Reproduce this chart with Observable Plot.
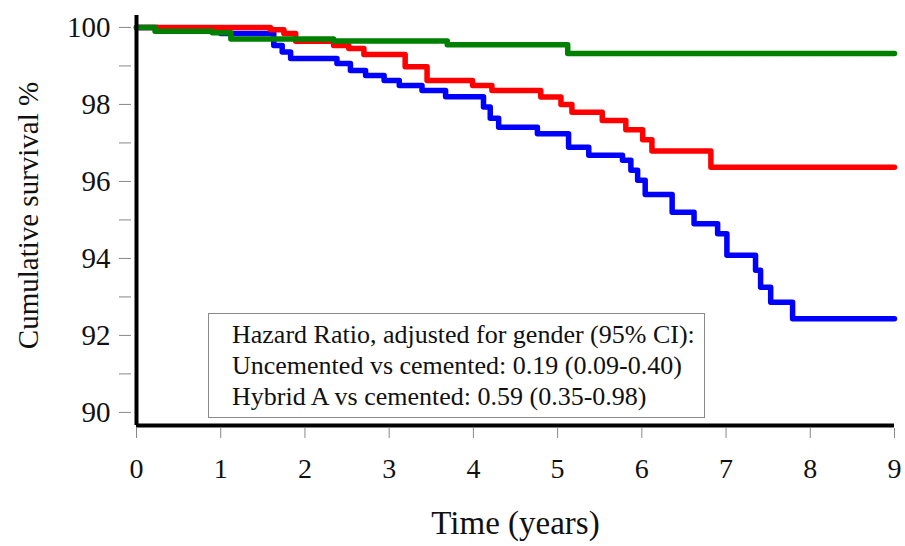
<!DOCTYPE html>
<html><head><meta charset="utf-8">
<script src="https://cdn.jsdelivr.net/npm/d3@7"></script>
<script src="https://cdn.jsdelivr.net/npm/@observablehq/plot@0.6"></script>
<style>
body{margin:0;background:#fff;}
#wrap{position:relative;width:905px;height:546px;font-family:"Liberation Serif","Times New Roman",serif;}
#wrap svg{position:absolute;left:0;top:0;}
#hr{position:absolute;left:208px;top:313px;width:497px;height:105px;box-sizing:border-box;border:1px solid #8a8a8a;background:#fff;padding:5px 0 0 23px;font-size:26px;line-height:31px;color:#111;white-space:nowrap;}
</style>
</head><body>
<div id="wrap"><div id="hr"></div></div>
<script>
// Series (Kaplan-Meier step curves): time in years, cumulative survival %
const seriesNames = ["Cemented", "Hybrid A", "Uncemented"];
const seriesColors = ["#0000ff", "#ff0000", "#008000"];

const cementedTime = [0, 0.25, 1.0, 1.63, 1.73, 1.83, 2.38, 2.54, 2.72, 2.94, 3.12, 3.39, 3.67, 4.12, 4.20, 4.30, 4.76, 5.13, 5.37, 5.77, 5.87, 5.95, 6.04, 6.36, 6.62, 6.90, 7.01, 7.35, 7.41, 7.53, 7.79, 9];
const cementedSurv = [100, 99.9, 99.84, 99.53, 99.36, 99.19, 99.06, 98.88, 98.75, 98.62, 98.49, 98.36, 98.2, 97.93, 97.64, 97.41, 97.24, 96.89, 96.68, 96.55, 96.29, 96.03, 95.66, 95.2, 94.9, 94.64, 94.08, 93.69, 93.25, 92.86, 92.43, 92.43];

const hybridTime = [0, 1.59, 1.75, 1.89, 2.34, 2.52, 2.70, 3.19, 3.45, 3.99, 4.22, 4.80, 5.04, 5.17, 5.53, 5.81, 6.01, 6.12, 6.82, 9];
const hybridSurv = [100, 99.94, 99.84, 99.64, 99.53, 99.45, 99.30, 98.98, 98.62, 98.49, 98.36, 98.19, 98.0, 97.8, 97.58, 97.34, 97.08, 96.79, 96.37, 96.37];

const uncementedTime = [0, 0.22, 0.9, 1.12, 2.34, 3.69, 5.12, 9];
const uncementedSurv = [100, 99.9, 99.86, 99.7, 99.65, 99.55, 99.32, 99.32];

const xTicks = [0, 1, 2, 3, 4, 5, 6, 7, 8, 9];
const yTicks = [90, 92, 94, 96, 98, 100];
const yMinorTicks = [91, 93, 95, 97, 99];

const hrLines = [
  "Hazard Ratio, adjusted for gender (95% CI):",
  "Uncemented vs cemented: 0.19 (0.09-0.40)",
  "Hybrid A vs cemented: 0.59 (0.35-0.98)"
];

// drawn in this order: blue under red under green
const allTimes = [cementedTime, hybridTime, uncementedTime];
const allSurv = [cementedSurv, hybridSurv, uncementedSurv];
const rows = [];
seriesNames.forEach((name, i) => {
  allTimes[i].forEach((t, j) => rows.push({series: name, time: t, surv: allSurv[i][j]}));
});

const yLo = 89.66, yHi = 100.31;
const font = '"Liberation Serif","Times New Roman",serif';

const chart = Plot.plot({
  width: 905,
  height: 546,
  marginLeft: 136,
  marginRight: 11,
  marginTop: 15,
  marginBottom: 121,
  style: {fontFamily: font, background: "transparent", color: "#111"},
  x: {domain: [0, 9]},
  y: {domain: [yLo, yHi]},
  color: {domain: seriesNames, range: seriesColors},
  marks: [
    Plot.axisY({ticks: yMinorTicks, tickSize: 12, dx: -5, stroke: "#888", tickFormat: () => "", label: null}),
    Plot.axisY({ticks: yTicks, tickSize: 12, dx: -5, stroke: "#888", tickPadding: 9, fontSize: 29, tickFormat: d => String(d), label: null}),
    Plot.axisX({ticks: xTicks, tickSize: 10, dy: 3, stroke: "#888", tickPadding: 20, fontSize: 28, tickFormat: d => String(d), label: null}),
    Plot.text(["Cumulative survival %"], {frameAnchor: "left", textAnchor: "middle", rotate: -90, dx: -108, dy: -5, fontSize: 29, fill: "#111"}),
    Plot.text(["Time (years)"], {frameAnchor: "bottom", dy: 108, fontSize: 33, fill: "#111"}),
    Plot.line(rows, {x: "time", y: "surv", z: "series", stroke: "series", curve: "step-after", strokeWidth: 5.5, strokeLinecap: "round", strokeLinejoin: "round"}),
    Plot.ruleX([0], {stroke: "#000", strokeWidth: 4}),
    Plot.ruleY([yLo], {stroke: "#000", strokeWidth: 4})
  ]
});
document.getElementById("wrap").prepend(chart);
document.getElementById("hr").innerHTML = hrLines.map(s => `<div>${s}</div>`).join("");
</script>
</body></html>
